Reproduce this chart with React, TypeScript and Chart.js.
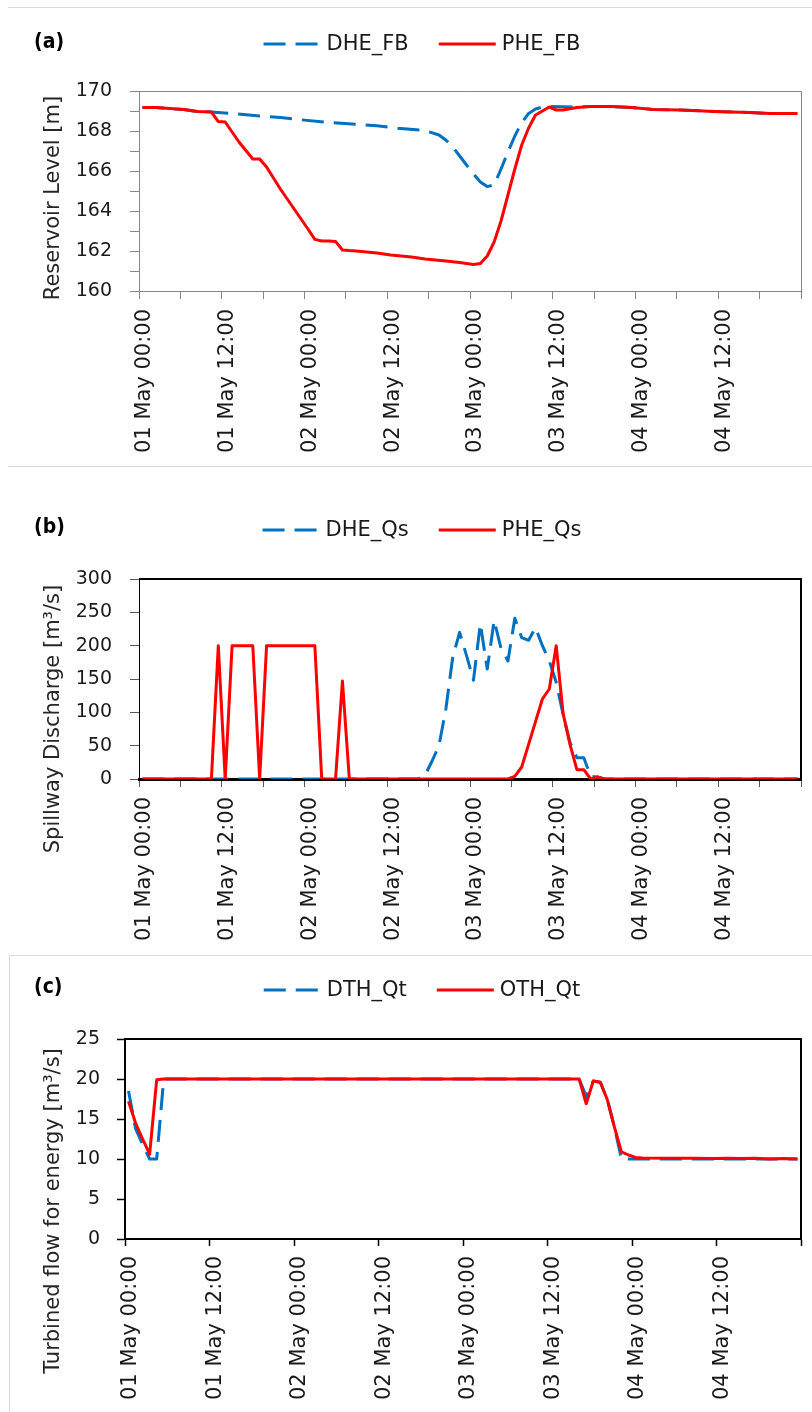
import React, { useEffect, useRef } from 'react';
import { Chart, registerables } from 'chart.js';

Chart.register(...registerables);

// ---------------- data (hours since 01 May 00:00) ----------------
// (a) Reservoir level [m]
const levelHoursDHE = [0.5, 2.5, 6.5, 8.5, 10.5, 13.5, 17.5, 20.5, 23.5, 27.5, 31.5, 34.5, 37.5, 41.5, 43.5, 44.5, 45.5, 46.5, 47.5, 48.5, 49.5, 50.5, 51.5, 52.5, 53.5, 54.5, 55.5, 56.5, 57.5, 58.5, 59.5, 63.5, 65.5, 68.5, 71.5, 74.5, 78.5, 83.5, 88.5, 91.5, 95.5];
const levelDHE = [169.17, 169.17, 169.07, 168.97, 168.95, 168.88, 168.75, 168.67, 168.56, 168.43, 168.33, 168.26, 168.14, 168.02, 167.8, 167.55, 167.2, 166.75, 166.3, 165.85, 165.45, 165.22, 165.3, 166.1, 166.95, 167.75, 168.42, 168.88, 169.1, 169.2, 169.22, 169.2, 169.22, 169.22, 169.17, 169.08, 169.05, 168.98, 168.93, 168.87, 168.87];
const levelHoursPHE = [0.5, 2.5, 6.5, 8.5, 10.5, 11.5, 12.5, 14.5, 16.5, 17.5, 18.5, 20.5, 22.5, 24.5, 25.5, 26.5, 27.5, 28.5, 29.5, 30.5, 31.5, 34.5, 36.5, 39.5, 41.5, 44.5, 46.5, 48.5, 49.5, 50.5, 51.5, 52.5, 53.5, 54.5, 55.5, 56.5, 57.5, 58.5, 59.5, 60.5, 61.5, 63.5, 65.5, 68.5, 71.5, 74.5, 78.5, 83.5, 88.5, 91.5, 95.5];
const levelPHE = [169.17, 169.17, 169.07, 168.97, 168.95, 168.47, 168.45, 167.45, 166.6, 166.6, 166.2, 165.1, 164.1, 163.1, 162.58, 162.5, 162.5, 162.48, 162.05, 162.02, 162.0, 161.9, 161.8, 161.7, 161.6, 161.5, 161.42, 161.33, 161.37, 161.75, 162.45, 163.5, 164.8, 166.1, 167.3, 168.15, 168.8, 169.0, 169.2, 169.05, 169.05, 169.17, 169.22, 169.22, 169.17, 169.08, 169.05, 168.98, 168.93, 168.87, 168.87];

// (b) Spillway discharge [m3/s]
const qsHoursDHE = [0.5, 40.5, 41.5, 42.5, 43.5, 44.5, 45.5, 46.5, 47.5, 48.5, 49.5, 50.5, 51.5, 52.5, 53.5, 54.5, 55.5, 56.5, 57.5, 58.5, 59.5, 60.5, 61.5, 62.5, 63.5, 64.5, 65.5, 66.5, 67.5, 95.5];
const qsDHE = [0, 0, 6, 27, 50, 105, 183, 220, 185, 148, 233, 165, 238, 196, 177, 241, 212, 208, 227, 200, 177, 145, 97, 55, 32, 32, 4, 3, 0, 0];
const qsHoursPHE = [0.5, 10.5, 11.5, 12.5, 13.5, 16.5, 17.5, 18.5, 25.5, 26.5, 28.5, 29.5, 30.5, 53.5, 54.5, 55.5, 56.5, 57.5, 58.5, 59.5, 60.5, 61.5, 62.5, 63.5, 64.5, 65.5, 66.5, 67.5, 95.5];
const qsPHE = [0, 0, 200, 0, 200, 200, 0, 200, 200, 0, 0, 147, 0, 0, 4, 18, 52, 86, 120, 135, 200, 98, 52, 14, 14, 0, 3, 0, 0];

// (c) Turbined flow for energy [m3/s]
const qtHoursDTH = [0.5, 1.5, 2.5, 3.5, 4.5, 5.5, 64.5, 65.5, 66.5, 67.5, 68.5, 69.5, 70.5, 95.5];
const qtDTH = [18.5, 13.8, 11.8, 10.0, 10.0, 20, 20, 17.8, 19.75, 19.6, 17.4, 14.0, 10.0, 10.0];
const qtHoursOTH = [0.5, 1.5, 2.5, 3.5, 4.5, 5.5, 64.5, 65.5, 66.5, 67.5, 68.5, 69.5, 70.5, 71.5, 72.5, 73.5, 77.5, 80.5, 83.5, 85.5, 87.5, 89.5, 91.5, 93.5, 95.5];
const qtOTH = [17.2, 14.5, 12.5, 10.6, 19.9, 20, 20, 16.9, 19.75, 19.6, 17.4, 14.0, 10.9, 10.5, 10.2, 10.12, 10.1, 10.1, 10.05, 10.1, 10.05, 10.1, 10.0, 10.05, 10.0];

// ticks
const xTickHours6 = [0, 6, 12, 18, 24, 30, 36, 42, 48, 54, 60, 66, 72, 78, 84, 90, 96];
const xTickLabels6 = ['01 May 00:00', '', '01 May 12:00', '', '02 May 00:00', '', '02 May 12:00', '', '03 May 00:00', '', '03 May 12:00', '', '04 May 00:00', '', '04 May 12:00', '', ''];
const xTickHours12 = [0, 12, 24, 36, 48, 60, 72, 84, 96];
const xTickLabels12 = ['01 May 00:00', '01 May 12:00', '02 May 00:00', '02 May 12:00', '03 May 00:00', '03 May 12:00', '04 May 00:00', '04 May 12:00', ''];
const levelTicks = [160, 161, 162, 163, 164, 165, 166, 167, 168, 169, 170];
const levelTickLabels = ['160', '', '162', '', '164', '', '166', '', '168', '', '170'];
const qsTicks = [0, 50, 100, 150, 200, 250, 300];
const qsTickLabels = ['0', '50', '100', '150', '200', '250', '300'];
const qtTicks = [0, 5, 10, 15, 20, 25];
const qtTickLabels = ['0', '5', '10', '15', '20', '25'];

const BLUE = '#0070C0';
const RED = '#FF0000';
const DASH = [22, 10];
const FONT = '"DejaVu Sans", Verdana, sans-serif';

type Series = { label: string; hours: number[]; values: number[]; color: string; dash: number[]; order: number };
type Panel = {
  height: number;
  plot: { left: number; right: number; top: number; bottom: number };
  series: Series[];
  yMin: number; yMax: number; yTicks: number[]; yTickLabels: string[];
  xTicks: number[]; xTickLabels: string[];
  axisColor: string; yBorderWidth: number; xBorderWidth: number;
  tickColor: string; tickWidth: number; xTickLen: number; yTickLen: number; yTickPad: number;
  frameColor: string; frameWidth: number;
  panelLabel: string; panelX: number; panelY: number;
  legendCx: number; legendY: number;
  yTitle: string; yTitleX: number; yTitleY: number;
};

const decorPlugin = {
  id: 'decor',
  beforeDatasetsDraw(chart: any, _args: any, o: any) {
    const { ctx, chartArea: a } = chart;
    const w = o.frameWidth;
    const al = (p: number) => Math.round(p - w / 2) + w / 2;
    ctx.save();
    ctx.strokeStyle = o.frameColor;
    ctx.lineWidth = w;
    ctx.beginPath();
    ctx.moveTo(a.left, al(a.top));
    ctx.lineTo(al(a.right), al(a.top));
    ctx.lineTo(al(a.right), a.bottom + w / 2);
    ctx.stroke();
    ctx.restore();
  },
  afterDraw(chart: any, _args: any, o: any) {
    const ctx = chart.ctx;
    ctx.save();
    // panel label
    ctx.font = 'bold 21px "DejaVu Sans Condensed", "DejaVu Sans", sans-serif';
    ctx.fillStyle = '#000';
    ctx.textAlign = 'left';
    ctx.textBaseline = 'middle';
    ctx.fillText(o.panelLabel, o.panelX, o.panelY);
    // legend
    ctx.font = `21px ${FONT}`;
    const lineLen = 57, gap = 6, itemGap = 30;
    const items = chart.data.datasets.map((ds: any) => ({
      text: ds.label, color: ds.borderColor, dash: ds.borderDash || [], w: ctx.measureText(ds.label).width,
    }));
    const total = items.reduce((s: number, it: any) => s + lineLen + gap + it.w, 0) + itemGap * (items.length - 1);
    let x = o.legendCx - total / 2;
    for (const it of items) {
      ctx.strokeStyle = it.color;
      ctx.lineWidth = 3;
      ctx.setLineDash(it.dash);
      ctx.beginPath();
      ctx.moveTo(x, o.legendY);
      ctx.lineTo(x + lineLen, o.legendY);
      ctx.stroke();
      ctx.setLineDash([]);
      ctx.fillStyle = '#1a1a1a';
      ctx.fillText(it.text, x + lineLen + gap, o.legendY + 1);
      x += lineLen + gap + it.w + itemGap;
    }
    // y axis title
    ctx.translate(o.yTitleX, o.yTitleY);
    ctx.rotate(-Math.PI / 2);
    ctx.textAlign = 'center';
    ctx.textBaseline = 'middle';
    ctx.fillStyle = '#262626';
    ctx.font = `21px ${FONT}`;
    ctx.fillText(o.yTitle, 0, 0);
    ctx.restore();
  },
};

function buildConfig(p: Panel): any {
  return {
    type: 'line',
    data: {
      datasets: p.series.map((s) => ({
        label: s.label,
        data: s.hours.map((h, k) => ({ x: h, y: s.values[k] })),
        borderColor: s.color,
        backgroundColor: s.color,
        borderWidth: 3,
        borderDash: s.dash,
        borderJoinStyle: 'round',
        pointRadius: 0,
        pointHoverRadius: 0,
        tension: 0,
        fill: false,
        order: s.order,
      })),
    },
    options: {
      responsive: false,
      animation: false,
      devicePixelRatio: 1,
      events: [],
      layout: { padding: { left: 0, right: 812 - p.plot.right, top: p.plot.top, bottom: 0 } },
      plugins: {
        legend: { display: false },
        tooltip: { enabled: false },
        decor: {
          frameColor: p.frameColor, frameWidth: p.frameWidth,
          panelLabel: p.panelLabel, panelX: p.panelX, panelY: p.panelY,
          legendCx: p.legendCx, legendY: p.legendY,
          yTitle: p.yTitle, yTitleX: p.yTitleX, yTitleY: p.yTitleY,
        },
      },
      scales: {
        x: {
          type: 'linear',
          min: 0,
          max: 96,
          afterBuildTicks: (s: any) => { s.ticks = p.xTicks.map((v) => ({ value: v })); },
          afterFit: (s: any) => { s.height = p.height - p.plot.bottom; s.paddingLeft = 0; s.paddingRight = 0; },
          ticks: {
            autoSkip: false,
            maxRotation: 90,
            minRotation: 90,
            padding: 10,
            labelOffset: 6,
            color: '#1a1a1a',
            font: { family: FONT, size: 21 },
            callback: (v: number) => { const i = p.xTicks.indexOf(v); return i >= 0 ? p.xTickLabels[i] : ''; },
          },
          grid: { drawOnChartArea: false, drawTicks: true, tickLength: p.xTickLen, tickColor: p.tickColor, tickWidth: p.tickWidth },
          border: { display: true, color: p.axisColor, width: p.xBorderWidth },
        },
        y: {
          type: 'linear',
          min: p.yMin,
          max: p.yMax,
          afterBuildTicks: (s: any) => { s.ticks = p.yTicks.map((v) => ({ value: v })); },
          afterFit: (s: any) => { s.width = p.plot.left; s.paddingTop = 0; s.paddingBottom = 0; },
          ticks: {
            autoSkip: false,
            padding: p.yTickPad,
            color: '#1a1a1a',
            font: { family: FONT, size: 19 },
            callback: (v: number) => { const i = p.yTicks.indexOf(v); return i >= 0 ? p.yTickLabels[i] : ''; },
          },
          grid: { drawOnChartArea: false, drawTicks: true, tickLength: p.yTickLen, tickColor: p.tickColor, tickWidth: p.tickWidth },
          border: { display: true, color: p.axisColor, width: p.yBorderWidth },
        },
      },
    },
    plugins: [decorPlugin],
  };
}

const panelA: Panel = {
  height: 470,
  plot: { left: 139, right: 801, top: 91, bottom: 291 },
  series: [
    { label: 'DHE_FB', hours: levelHoursDHE, values: levelDHE, color: BLUE, dash: DASH, order: 2 },
    { label: 'PHE_FB', hours: levelHoursPHE, values: levelPHE, color: RED, dash: [], order: 1 },
  ],
  yMin: 160, yMax: 170, yTicks: levelTicks, yTickLabels: levelTickLabels,
  xTicks: xTickHours6, xTickLabels: xTickLabels6,
  axisColor: '#868686', yBorderWidth: 1, xBorderWidth: 1,
  tickColor: '#868686', tickWidth: 1, xTickLen: 8, yTickLen: 9, yTickPad: 18,
  frameColor: '#868686', frameWidth: 1,
  panelLabel: '(a)', panelX: 34, panelY: 43,
  legendCx: 422, legendY: 44,
  yTitle: 'Reservoir Level [m]', yTitleX: 54, yTitleY: 198,
};

const panelB: Panel = {
  height: 475,
  plot: { left: 139, right: 801, top: 109, bottom: 309 },
  series: [
    { label: 'DHE_Qs', hours: qsHoursDHE, values: qsDHE, color: BLUE, dash: DASH, order: 2 },
    { label: 'PHE_Qs', hours: qsHoursPHE, values: qsPHE, color: RED, dash: [], order: 1 },
  ],
  yMin: 0, yMax: 300, yTicks: qsTicks, yTickLabels: qsTickLabels,
  xTicks: xTickHours6, xTickLabels: xTickLabels6,
  axisColor: '#000000', yBorderWidth: 1, xBorderWidth: 3,
  tickColor: '#595959', tickWidth: 1, xTickLen: 8, yTickLen: 9, yTickPad: 18,
  frameColor: '#000000', frameWidth: 2,
  panelLabel: '(b)', panelX: 34, panelY: 58,
  legendCx: 422, legendY: 60,
  yTitle: 'Spillway Discharge [m³/s]', yTitleX: 54, yTitleY: 249,
};

const panelC: Panel = {
  height: 467,
  plot: { left: 125, right: 801, top: 94, bottom: 294 },
  series: [
    { label: 'DTH_Qt', hours: qtHoursDTH, values: qtDTH, color: BLUE, dash: DASH, order: 2 },
    { label: 'OTH_Qt', hours: qtHoursOTH, values: qtOTH, color: RED, dash: [], order: 1 },
  ],
  yMin: 0, yMax: 25, yTicks: qtTicks, yTickLabels: qtTickLabels,
  xTicks: xTickHours12, xTickLabels: xTickLabels12,
  axisColor: '#000000', yBorderWidth: 2, xBorderWidth: 2,
  tickColor: '#000000', tickWidth: 1.5, xTickLen: 7, yTickLen: 8, yTickPad: 17,
  frameColor: '#000000', frameWidth: 2,
  panelLabel: '(c)', panelX: 34, panelY: 43,
  legendCx: 422, legendY: 45,
  yTitle: 'Turbined flow for energy [m³/s]', yTitleX: 54, yTitleY: 266,
};

export default function App() {
  const refA = useRef<HTMLCanvasElement>(null);
  const refB = useRef<HTMLCanvasElement>(null);
  const refC = useRef<HTMLCanvasElement>(null);

  useEffect(() => {
    const charts = [
      new Chart(refA.current as HTMLCanvasElement, buildConfig(panelA)),
      new Chart(refB.current as HTMLCanvasElement, buildConfig(panelB)),
      new Chart(refC.current as HTMLCanvasElement, buildConfig(panelC)),
    ];
    return () => charts.forEach((c) => c.destroy());
  }, []);

  const sep = '#d9d9d9';
  return (
    <div style={{ position: 'absolute', left: 0, top: 0, width: 812, height: 1412, background: '#ffffff', overflow: 'hidden' }}>
      <canvas ref={refA} width={812} height={470} style={{ position: 'absolute', left: 0, top: 0, width: 812, height: 470 }} />
      <canvas ref={refB} width={812} height={475} style={{ position: 'absolute', left: 0, top: 470, width: 812, height: 475 }} />
      <canvas ref={refC} width={812} height={467} style={{ position: 'absolute', left: 0, top: 945, width: 812, height: 467 }} />
      <div style={{ position: 'absolute', left: 8, top: 7, width: 804, height: 1, background: sep }} />
      <div style={{ position: 'absolute', left: 8, top: 466, width: 804, height: 1, background: sep }} />
      <div style={{ position: 'absolute', left: 9, top: 955, width: 803, height: 1, background: sep }} />
      <div style={{ position: 'absolute', left: 9, top: 955, width: 1, height: 457, background: sep }} />
    </div>
  );
}
